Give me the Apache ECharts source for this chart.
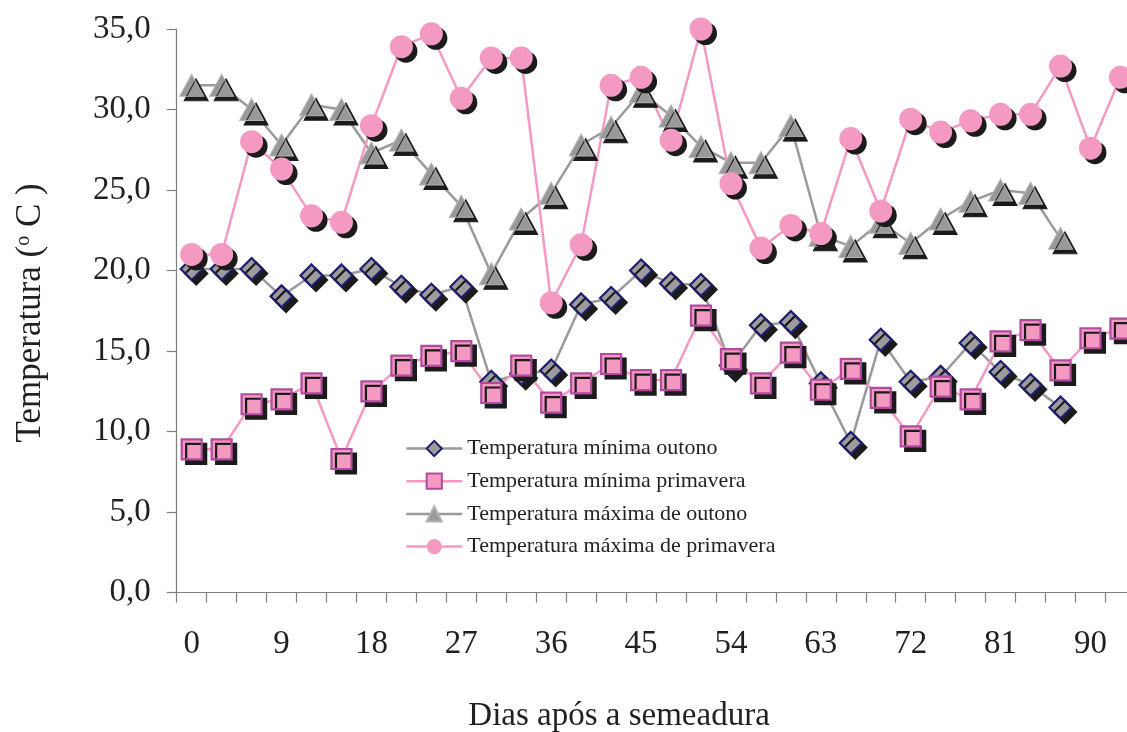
<!DOCTYPE html>
<html>
<head>
<meta charset="utf-8">
<script src="https://cdn.jsdelivr.net/npm/echarts@6/dist/echarts.min.js"></script>
<style>
  html, body { margin: 0; padding: 0; background: #ffffff; }
  #chart { width: 1127px; height: 732px; }
</style>
</head>
<body>
<div id="chart"></div>
<script>
// Days after sowing (one category every 3 days)
const days = [0, 3, 6, 9, 12, 15, 18, 21, 24, 27, 30, 33, 36, 39, 42, 45,
              48, 51, 54, 57, 60, 63, 66, 69, 72, 75, 78, 81, 84, 87, 90, 93];

// Daily temperatures (°C)
const minOutono = [20.1, 20.1, 20.1, 18.4, 19.7, 19.7, 20.1, 19.0, 18.5, 19.0, 13.1, 13.6,
                   13.8, 17.9, 18.3, 20.0, 19.2, 19.1, 14.1, 16.6, 16.8, 13.0, 9.3, 15.7,
                   13.1, 13.4, 15.5, 13.7, 12.9, 11.5, null, null];
const minPrimavera = [8.9, 8.9, 11.7, 12.0, 13.0, 8.3, 12.5, 14.1, 14.7, 15.0, 12.4, 14.1,
                      11.8, 13.0, 14.2, 13.2, 13.2, 17.2, 14.5, 13.0, 14.9, 12.6, 13.9, 12.1,
                      9.7, 12.8, 12.0, 15.6, 16.3, 13.8, 15.8, 16.4];
const maxOutono = [31.5, 31.5, 30.0, 27.8, 30.3, 30.0, 27.3, 28.1, 26.0, 24.0, 19.8, 23.2,
                   24.8, 27.8, 28.9, 31.1, 29.6, 27.7, 26.7, 26.7, 29.0, 22.2, 21.5, 23.0,
                   21.7, 23.2, 24.3, 25.0, 24.8, 22.0, null, null];
const maxPrimavera = [21.0, 21.0, 28.0, 26.3, 23.4, 23.0, 29.0, 33.9, 34.7, 30.7, 33.2, 33.2,
                      18.0, 21.6, 31.5, 32.0, 28.1, 35.0, 25.4, 21.4, 22.8, 22.3, 28.2, 23.7,
                      29.4, 28.6, 29.3, 29.7, 29.7, 32.7, 27.6, 32.0];

const seriesNames = [
  'Temperatura mínima outono',
  'Temperatura mínima primavera',
  'Temperatura máxima de outono',
  'Temperatura máxima de primavera'
];
const xAxisTitle = 'Dias após a semeadura';

const FONT = "'Liberation Serif', 'Times New Roman', serif";
const TEXT = '#231f20';
const AXIS = '#7f7f7f';
const GRAY_LINE = '#9a9a9a';
const PINK = '#f49ac2';

const shadow = { shadowColor: '#1b1b1b', shadowOffsetX: 4.5, shadowOffsetY: 4.5, shadowBlur: 0 };

function lineSeries(name, data, symbol, size, lineColor, itemStyle) {
  return {
    name, type: 'line', data,
    symbol, symbolSize: size,
    showAllSymbol: true,
    connectNulls: false,
    lineStyle: { color: lineColor, width: 2.5 },
    itemStyle: Object.assign({}, itemStyle, shadow),
    emphasis: { disabled: true },
    animation: false
  };
}

const chart = echarts.init(document.getElementById('chart'), null, { renderer: 'canvas' });

chart.setOption({
  backgroundColor: '#ffffff',
  animation: false,
  grid: {
    left: 176.7, top: 29, width: 958.7, bottom: 139.3,
    containLabel: false, outerBoundsMode: 'none'
  },
  legend: {
    orient: 'vertical',
    left: 405, top: 437.5,
    padding: 0,
    itemWidth: 56, itemHeight: 19, itemGap: 10.7,
    selectedMode: false,
    textStyle: { fontFamily: FONT, fontSize: 22, color: TEXT, lineHeight: 22 },
    lineStyle: { width: 2.5 },
    data: seriesNames
  },
  xAxis: {
    type: 'category',
    data: days,
    boundaryGap: true,
    name: xAxisTitle,
    nameLocation: 'middle',
    nameGap: 107,
    nameTextStyle: { fontFamily: FONT, fontSize: 33, color: TEXT, padding: [0, 74, 0, 0] },
    axisLine: { lineStyle: { color: AXIS, width: 1.2 } },
    axisTick: { show: true, interval: 0, length: 10, inside: false, lineStyle: { color: AXIS, width: 1.2 } },
    axisLabel: { interval: 2, margin: 35, fontFamily: FONT, fontSize: 33, color: TEXT },
    splitLine: { show: false }
  },
  yAxis: {
    type: 'value',
    min: 0, max: 35, interval: 5,
    name: 'Temperatura ({sup|o} C )',
    nameLocation: 'middle',
    nameGap: 128,
    nameTextStyle: {
      fontFamily: FONT, fontSize: 35, color: TEXT, lineHeight: 35,
      padding: [0, 4, 0, 0],
      rich: { sup: { fontFamily: FONT, fontSize: 20, lineHeight: 20, color: TEXT, verticalAlign: 'top' } }
    },
    axisLine: { show: true, lineStyle: { color: AXIS, width: 1.2 } },
    axisTick: { show: true, length: 10, inside: false, lineStyle: { color: AXIS, width: 1.2 } },
    axisLabel: {
      margin: 26, fontFamily: FONT, fontSize: 33, color: TEXT,
      formatter: v => v.toFixed(1).replace('.', ',')
    },
    splitLine: { show: false }
  },
  series: [
    lineSeries(seriesNames[0], minOutono, 'diamond', 22, GRAY_LINE,
      { color: '#9c9c9c', borderColor: '#1f1d6e', borderWidth: 2.2 }),
    lineSeries(seriesNames[1], minPrimavera, 'rect', 20, PINK,
      { color: PINK, borderColor: '#b04c9f', borderWidth: 2.2 }),
    lineSeries(seriesNames[2], maxOutono, 'triangle', [24, 22], GRAY_LINE,
      { color: '#999999', borderColor: '#b3b3b3', borderWidth: 1 }),
    lineSeries(seriesNames[3], maxPrimavera, 'circle', 23, PINK,
      { color: PINK })
  ]
});
</script>
</body>
</html>
